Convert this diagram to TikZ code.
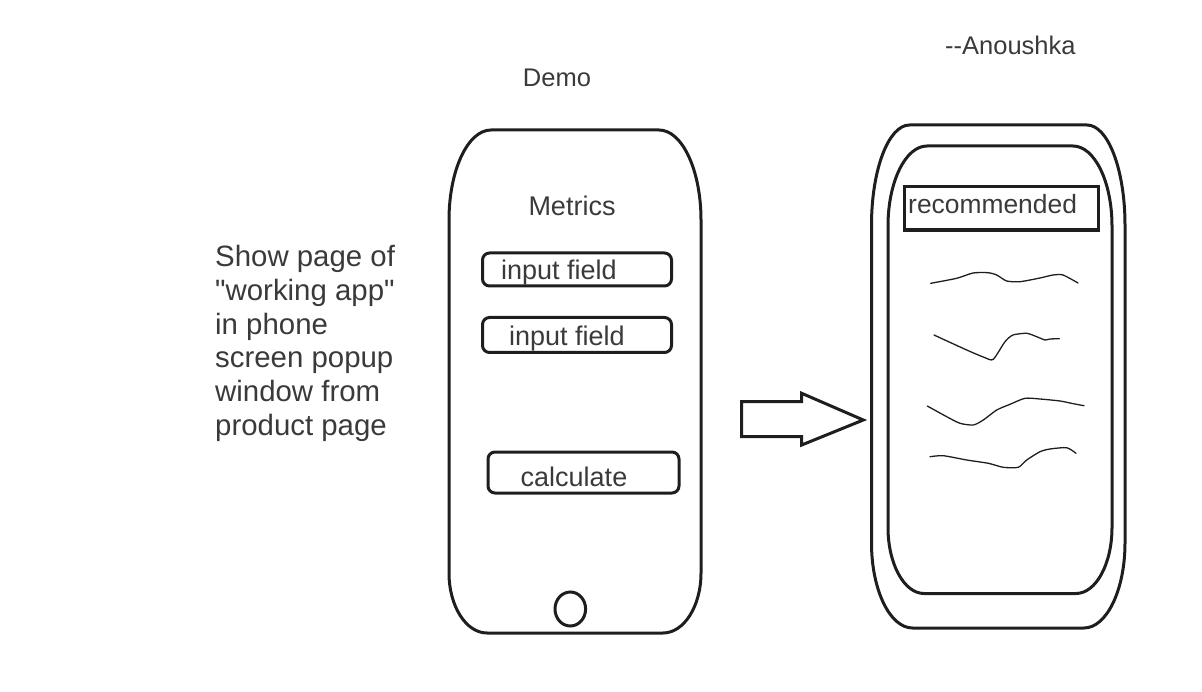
\documentclass[tikz,border=0pt]{standalone}
\usepackage{fontspec}
\setmainfont{Liberation Sans}
\newfontfamily\plainfont{Liberation Sans}
\usepackage{tikz}
\usetikzlibrary{positioning,shapes.geometric}
\definecolor{ink}{HTML}{3A3A3A}
\definecolor{edge}{HTML}{1E1E1E}

\begin{document}
\begin{tikzpicture}[x=1pt, y=-1pt,
    txt/.style={text=ink, inner sep=0pt, anchor=base},
    outline/.style={draw=edge, line width=3pt},
    fieldbox/.style={draw=edge, line width=3pt, rounded corners=7pt, inner sep=0pt},
    scribble/.style={draw=edge, line width=1.3pt, line join=round, line cap=round}]
  \useasboundingbox (0,0) rectangle (1202,692);

  % captions
  \node[txt, font=\fontsize{25.5}{30}\selectfont] (demo) at (557,86.7) {Demo};
  \node[txt, anchor=base west, font=\plainfont\fontsize{25.5}{30}\selectfont] (author) at (945,55) {--Anoushka};

  % note on the left
  \foreach \l [count=\i] in {Show page of, "working app", in phone, screen popup, window from, product page}
    \node[txt, anchor=base west, font=\plainfont\fontsize{29.4}{34}\selectfont] (note\i) at (215,{266.7+33.7*(\i-1)}) {\l};

  % demo phone
  \draw[outline] (449,220) -- (449,573)
    .. controls (449,606.1) and (466,633) .. (487,633) -- (663,633)
    .. controls (684,633) and (701,606.1) .. (701,573) -- (701,220)
    .. controls (701,170.3) and (682.2,130) .. (659,130) -- (491,130)
    .. controls (467.8,130) and (449,170.3) .. (449,220) -- cycle;
  \node[outline, ellipse, minimum width=30.6pt, minimum height=34pt, inner sep=0pt] (home) at (570.3,609) {};
  \node[txt, font=\fontsize{27}{32}\selectfont] (metrics) at (572,216) {Metrics};
  \node[fieldbox, minimum width=189pt, minimum height=33pt] (field1) at (577,269.5) {};
  \node[txt, font=\fontsize{27}{32}\selectfont] (field1txt) at (559,280) {input field};
  \node[fieldbox, minimum width=189pt, minimum height=35pt] (field2) at (577,335) {};
  \node[txt, font=\fontsize{27}{32}\selectfont] (field2txt) at (567,345.5) {input field};
  \node[fieldbox, minimum width=191pt, minimum height=41pt] (calc) at (583.5,472.5) {};
  \node[txt, font=\fontsize{27}{32}\selectfont] (calctxt) at (574,486.7) {calculate};

  % block arrow
  \draw[outline, line join=miter] (741.7,401.7) -- (801.7,401.7) -- (801.7,393.3) -- (863.3,420)
    -- (801.7,445) -- (801.7,436.7) -- (741.7,436.7) -- cycle;

  % result phone
  \draw[outline] (871.5,225) -- (871.5,543)
    .. controls (871.5,589.9) and (889.9,628) .. (912.5,628) -- (1084,628)
    .. controls (1106.6,628) and (1125,589.9) .. (1125,543) -- (1125,225)
    .. controls (1125,169.8) and (1108,125) .. (1087,125) -- (909.5,125)
    .. controls (888.5,125) and (871.5,169.8) .. (871.5,225) -- cycle;
  \draw[outline] (888,226) -- (888,527.5)
    .. controls (888,563.9) and (904.1,593.5) .. (924,593.5) -- (1076,593.5)
    .. controls (1095.9,593.5) and (1112,563.9) .. (1112,527.5) -- (1112,226)
    .. controls (1112,181.8) and (1094.5,146) .. (1073,146) -- (927,146)
    .. controls (905.5,146) and (888,181.8) .. (888,226) -- cycle;
  \node[outline, line width=3.5pt, minimum width=194pt, minimum height=43.3pt, inner sep=0pt] (recbox) at (1001.3,208.3) {};
  \node[txt, anchor=base west, font=\fontsize{26.4}{31}\selectfont] (rectxt) at (908,214) {recommended};

  % scribbled lines
  \draw[scribble] plot[smooth, tension=0.4] coordinates {(930.7,283.3) (956.7,278.3) (973,273) (988,272.7)
    (996.7,275) (1006.7,281) (1020,281.7) (1040,278) (1053,275) (1063,275) (1078,283)};
  \draw[scribble] plot[smooth, tension=0.4] coordinates {(934,335) (966.7,350) (985,357.7) (993.3,359.3)
    (1005,341.7) (1013,335) (1026.7,333.3) (1036.7,336.7) (1045,340) (1050,339) (1059.3,338.7)};
  \draw[scribble] plot[smooth, tension=0.4] coordinates {(927.3,406) (946.7,416.7) (960,423.3) (973.3,425)
    (983.3,420) (996.7,410) (1010,404.3) (1025,398.3) (1040,399) (1060,401) (1073.3,403.7) (1084,405.7)};
  \draw[scribble] plot[smooth, tension=0.4] coordinates {(930,456.7) (943.3,455.7) (966.7,460) (988.3,463.3)
    (1003.3,467.3) (1018.3,467.3) (1026.7,460) (1040,451.7) (1050,449) (1066.7,447.7) (1076,453.3)};
\end{tikzpicture}
\end{document}
